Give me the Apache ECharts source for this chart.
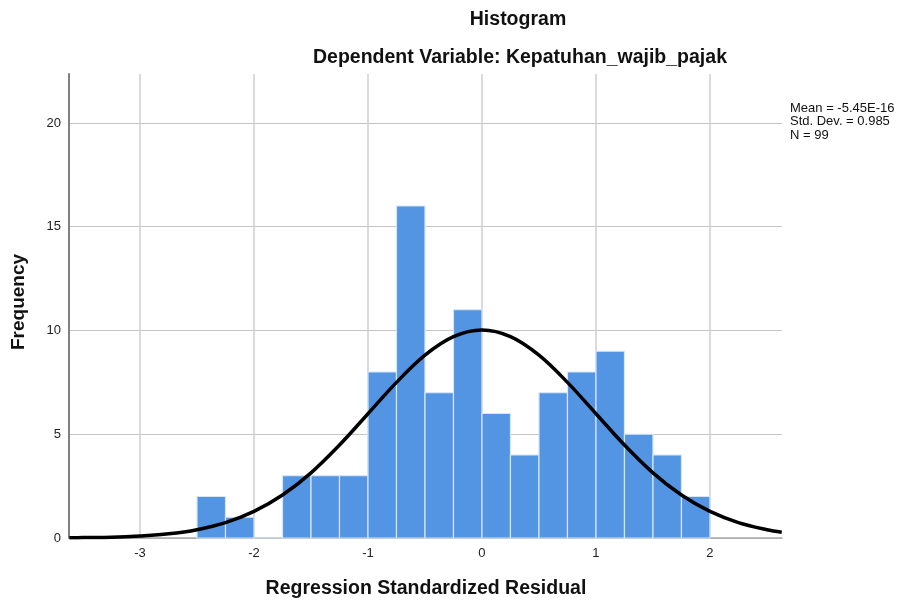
<!DOCTYPE html>
<html><head><meta charset="utf-8">
<script src="https://cdn.jsdelivr.net/npm/echarts@6/dist/echarts.min.js"></script>
<style>html,body{margin:0;padding:0;background:#fff}#c{width:899px;height:603px}</style>
</head><body><div id="c"></div>
<script>
// Histogram bins (lower edge, upper edge) and frequencies
const binStarts = [-2.5,-2.25,-2.0,-1.75,-1.5,-1.25,-1.0,-0.75,-0.5,-0.25,0,0.25,0.5,0.75,1.0,1.25,1.5,1.75];
const binWidth = 0.25;
const frequencies = [2,1,0,3,3,3,8,16,7,11,6,4,7,8,9,5,4,2];
// Normal curve
const curveX = [-3.62,-3.5,-3.25,-3.0,-2.75,-2.5,-2.25,-2.0,-1.75,-1.5,-1.25,-1.0,-0.75,-0.5,-0.25,0,0.25,0.5,0.75,1.0,1.25,1.5,1.75,2.0,2.25,2.5,2.63];
const curveY = [0.01,0.02,0.04,0.10,0.20,0.40,0.74,1.28,2.07,3.14,4.48,5.99,7.50,8.81,9.70,10.02,9.70,8.81,7.50,5.99,4.48,3.14,2.07,1.28,0.74,0.40,0.28];
const xTicks = [-3,-2,-1,0,1,2];
const yTicks = [0,5,10,15,20];
const statLines = ['Mean = -5.45E-16','Std. Dev. = 0.985','N = 99'];

const F = '"Liberation Sans", Arial, sans-serif';
const chart = echarts.init(document.getElementById('c'), null, {renderer:'canvas'});
const barData = binStarts.map((s,i)=>[s, s+binWidth, frequencies[i]]);
const lineData = curveX.map((x,i)=>[x, curveY[i]]);

chart.setOption({
  animation:false,
  backgroundColor:'#fff',
  grid:{left:69,right:117,top:74,bottom:65,containLabel:false},
  xAxis:{type:'value',min:-3.623,max:2.632,
    axisLine:{show:true,onZero:false,lineStyle:{color:'#a8a8a8',width:1.5}},
    axisTick:{show:false,customValues:xTicks},
    axisLabel:{customValues:xTicks,color:'#222',fontFamily:F,fontSize:13,margin:9},
    splitLine:{show:true,lineStyle:{color:'#cfcfcf',width:1.5}}
  },
  yAxis:{type:'value',min:0,max:22.36,
    axisLine:{show:true,onZero:false,lineStyle:{color:'#808080',width:2}},
    axisTick:{show:false,customValues:yTicks},
    axisLabel:{customValues:yTicks,color:'#222',fontFamily:F,fontSize:13,margin:8},
    splitLine:{show:true,lineStyle:{color:'#c4c4c4',width:1.2}}
  },
  series:[
    {type:'custom',z:2,data:barData,
      renderItem:function(params,api){
        const p0 = api.coord([api.value(0), api.value(2)]);
        const p1 = api.coord([api.value(1), 0]);
        return {type:'rect',shape:{x:p0[0],y:p0[1],width:p1[0]-p0[0],height:p1[1]-p0[1]},
          style:{fill:'#5394e3',stroke:'#d6e6f8',lineWidth:1.2}};
      }
    },
    {type:'line',z:3,data:lineData,smooth:0.35,symbol:'none',
      lineStyle:{color:'#000',width:3.5}}
  ],
  graphic:[
    {type:'text',style:{text:'Histogram',x:518,y:20,textAlign:'center',textVerticalAlign:'middle',font:'bold 19.5px '+F,fill:'#111'}},
    {type:'text',style:{text:'Dependent Variable: Kepatuhan_wajib_pajak',x:520,y:58,textAlign:'center',textVerticalAlign:'middle',font:'bold 19.5px '+F,fill:'#111'}},
    {type:'text',style:{text:'Frequency',x:0,y:0,textAlign:'center',textVerticalAlign:'middle',font:'bold 19px '+F,fill:'#111'},x:19,y:302,rotation:Math.PI/2},
    {type:'text',style:{text:'Regression Standardized Residual',x:426,y:589,textAlign:'center',textVerticalAlign:'middle',font:'bold 19.5px '+F,fill:'#111'}},
    {type:'text',style:{text:statLines.join('\n'),x:790,y:101.5,textAlign:'left',textVerticalAlign:'top',font:'13px '+F,lineHeight:13.5,fill:'#111'}}
  ]
});
</script></body></html>
